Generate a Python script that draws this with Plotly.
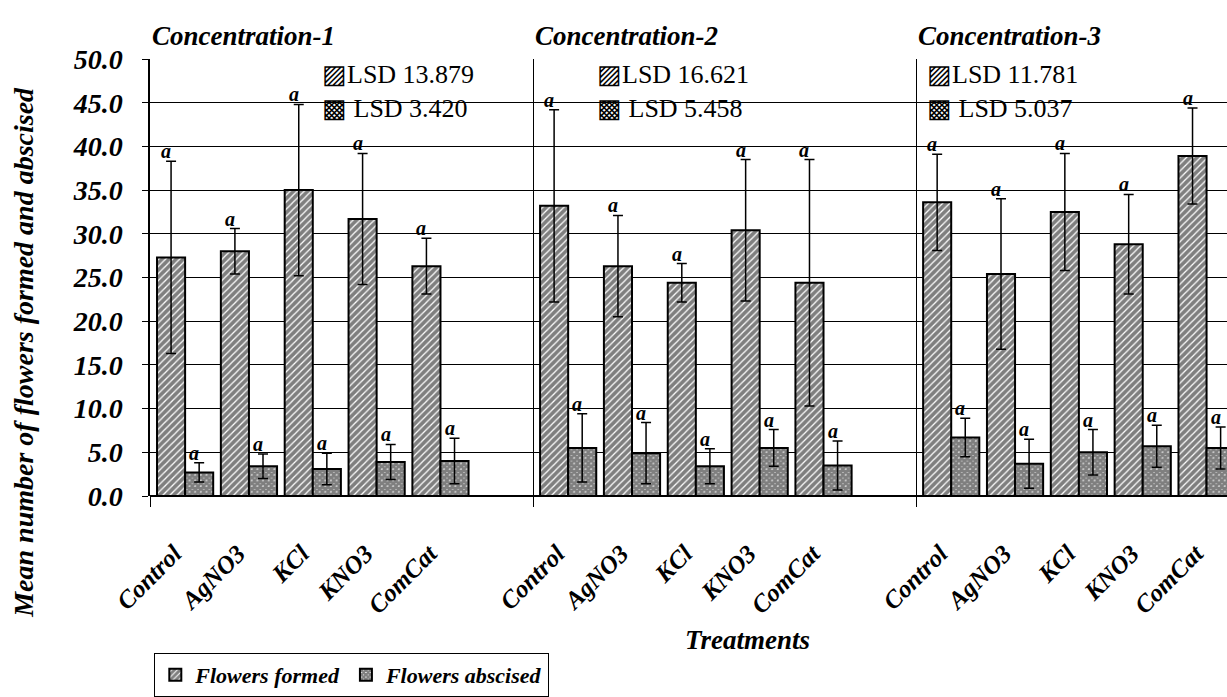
import plotly.graph_objects as go

# ---- data -------------------------------------------------------------
treatments = ["Control", "AgNO3", "KCl", "KNO3", "ComCat"]
concentrations = ["Concentration-1", "Concentration-2", "Concentration-3"]

formed_mean = [
    [27.3, 28.0, 35.0, 31.7, 26.3],
    [33.2, 26.3, 24.4, 30.4, 24.4],
    [33.6, 25.4, 32.5, 28.8, 38.9],
]
formed_err = [
    [11.0, 2.6, 9.8, 7.5, 3.2],
    [11.0, 5.8, 2.2, 8.1, 14.1],
    [5.5, 8.6, 6.7, 5.7, 5.5],
]
abscised_mean = [
    [2.7, 3.4, 3.1, 3.9, 4.0],
    [5.5, 4.9, 3.4, 5.5, 3.5],
    [6.7, 3.7, 5.0, 5.7, 5.5],
]
abscised_err = [
    [1.1, 1.4, 1.8, 2.0, 2.6],
    [3.9, 3.5, 2.0, 2.1, 2.8],
    [2.2, 2.8, 2.6, 2.4, 2.4],
]
lsd_formed = ["13.879", "16.621", "11.781"]
lsd_abscised = ["3.420", "5.458", "5.037"]
significance = "a"

# ---- layout constants -------------------------------------------------
SLOTS = len(treatments) + 1          # one empty slot between concentrations
BAR_W = 0.44
OFF_FORMED, OFF_ABSC = 0.33, 0.77
LSD_X = [2.66, 6.97, 12.14]          # left edge of each LSD note (slot units)
X_END = 16.87                        # visible part of the category axis
SERIF = "Liberation Serif"
BI = dict(family=SERIF, color="black", style="italic", weight="bold")

xf, xa, yf, ef, ya, ea, tickx, tickt = [], [], [], [], [], [], [], []
for g in range(len(concentrations)):
    for t, name in enumerate(treatments):
        s = g * SLOTS + t
        xf.append(s + OFF_FORMED)
        xa.append(s + OFF_ABSC)
        yf.append(formed_mean[g][t])
        ef.append(formed_err[g][t])
        ya.append(abscised_mean[g][t])
        ea.append(abscised_err[g][t])
        tickx.append(s + 0.38)
        tickt.append(name)

err_style = dict(type="data", color="black", thickness=1.5, width=5)

fig = go.Figure()
fig.add_trace(go.Bar(
    x=xf, y=yf, width=BAR_W, name="Flowers formed",
    marker=dict(color="white", line=dict(color="black", width=2),
                pattern=dict(shape="/", fgcolor="black", bgcolor="white",
                             size=5, solidity=0.75)),
    error_y=dict(array=ef, **err_style),
))
fig.add_trace(go.Bar(
    x=xa, y=ya, width=BAR_W, name="Flowers abscised",
    marker=dict(color="white", line=dict(color="black", width=2),
                pattern=dict(shape="x", fgcolor="black", bgcolor="white",
                             size=4, solidity=0.9)),
    error_y=dict(array=ea, **err_style),
))

annotations = []
# significance letters above each error bar
for xs, ys, es in ((xf, yf, ef), (xa, ya, ea)):
    for x, y, e in zip(xs, ys, es):
        annotations.append(dict(
            x=x, y=y + e, text=significance, showarrow=False,
            xanchor="center", yanchor="bottom", xshift=-5, yshift=-3,
            font=dict(size=20, **BI)))

# concentration headings and LSD notes
for g, title in enumerate(concentrations):
    annotations.append(dict(
        x=g * SLOTS, xref="x", y=1.052, yref="paper", text=title,
        showarrow=False, xanchor="left", yanchor="middle",
        font=dict(size=27, **BI)))
    annotations.append(dict(
        x=LSD_X[g], y=48.2, text="▨LSD " + lsd_formed[g],
        showarrow=False, xanchor="left", yanchor="middle",
        font=dict(family=SERIF, size=26, color="black")))
    annotations.append(dict(
        x=LSD_X[g], y=44.3, text="▩ LSD " + lsd_abscised[g],
        showarrow=False, xanchor="left", yanchor="middle",
        font=dict(family=SERIF, size=26, color="black")))

annotations.append(dict(
    x=-0.117, y=0.33, xref="paper", yref="paper",
    text="Mean number of flowers formed and abscised", textangle=-90,
    showarrow=False, xanchor="center", yanchor="middle",
    font=dict(size=28, **BI)))
annotations.append(dict(
    x=0.555, y=-0.33, xref="paper", yref="paper", text="Treatments",
    showarrow=False, xanchor="center", yanchor="middle",
    font=dict(size=27, **BI)))

fig.update_layout(
    width=1227, height=697,
    margin=dict(l=150, r=0, t=59, b=192),
    paper_bgcolor="white", plot_bgcolor="white",
    barmode="overlay", showlegend=True,
    annotations=annotations,
    legend=dict(orientation="h", x=0.004, y=-0.36, xanchor="left",
                yanchor="top", bordercolor="black", borderwidth=1,
                bgcolor="white", font=dict(size=22, **BI),
                itemwidth=30, tracegroupgap=0),
    xaxis=dict(range=[0, X_END], tickvals=tickx, ticktext=tickt,
               tickangle=-45, ticks="", showgrid=False, zeroline=False,
               showline=False, ticklabelstandoff=37,
               tickfont=dict(size=25, **BI),
               minor=dict(tick0=0, dtick=SLOTS, showgrid=True,
                          gridcolor="black", gridwidth=1.2,
                          ticks="outside", ticklen=10, tickcolor="black")),
    yaxis=dict(range=[0, 50], dtick=5, tickformat=".1f",
               showgrid=True, gridcolor="black", gridwidth=1.2,
               zeroline=True, zerolinecolor="black", zerolinewidth=1.5,
               showline=True, linecolor="black", linewidth=1.5,
               ticks="outside", ticklen=6, tickcolor="black",
               ticklabelstandoff=14, tickfont=dict(size=28, **BI)),
)

fig.write_html("out.html")
